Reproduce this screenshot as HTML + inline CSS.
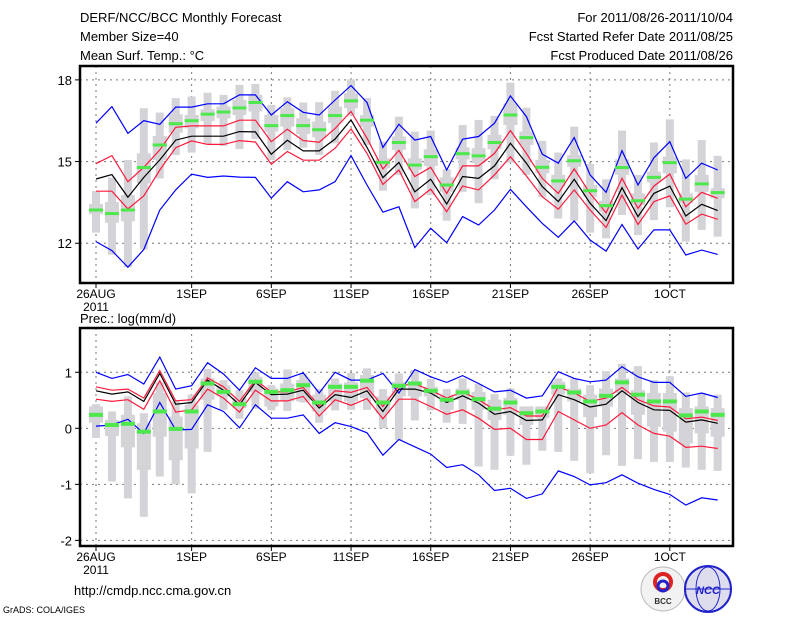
<!DOCTYPE html>
<html><head><meta charset="utf-8">
<style>
body{margin:0;background:#fff;}
svg{display:block;font-family:"Liberation Sans",sans-serif;}
</style></head>
<body>
<svg id="chart" width="800" height="618" viewBox="0 0 800 618">
<g font-size="13" fill="#000">
<text x="80" y="22">DERF/NCC/BCC Monthly Forecast</text>
<text x="80" y="41">Member Size=40</text>
<text x="80" y="60">Mean Surf. Temp.: °C</text>
<text x="733" y="22" text-anchor="end">For 2011/08/26-2011/10/04</text>
<text x="733" y="41" text-anchor="end">Fcst Started Refer Date 2011/08/25</text>
<text x="733" y="60" text-anchor="end">Fcst Produced Date 2011/08/26</text>
<text x="80" y="323">Prec.: log(mm/d)</text>
<text x="74" y="595">http://cmdp.ncc.cma.gov.cn</text>
<text x="3" y="613" font-size="9">GrADS: COLA/IGES</text>
</g>
<g>
<circle cx="663" cy="589" r="22" fill="#f2f2f2" stroke="#bbb"/>
<circle cx="663" cy="582" r="8" fill="none" stroke="#d22" stroke-width="4"/>
<circle cx="663" cy="586" r="5" fill="none" stroke="#22c" stroke-width="3"/>
<text x="663" y="604" font-size="8" text-anchor="middle" font-weight="bold" fill="#333">BCC</text>
</g>
<g>
<circle cx="708" cy="589" r="23" fill="#dde" stroke="#22c" stroke-width="2"/>
<ellipse cx="708" cy="589" rx="12" ry="22" fill="none" stroke="#22c"/>
<line x1="686" y1="589" x2="730" y2="589" stroke="#22c"/>
<text x="708" y="594" font-size="11" text-anchor="middle" font-weight="bold" font-style="italic" fill="#22c">NCC</text>
</g>
<g id="top"></g>
<g id="bot"></g>
</svg>
<script>
const dayLabels=["26AUG","1SEP","6SEP","11SEP","16SEP","21SEP","26SEP","1OCT"];
const dayLabelIdx=[0,6,11,16,21,26,31,36];
// Temperature data (40 days)
const tBlueUp=[16.41,17.02,16.04,16.50,16.37,17.00,17.00,17.12,17.12,17.45,17.45,16.71,17.20,16.81,16.71,17.26,17.79,17.17,15.52,16.37,15.79,15.92,14.69,15.82,15.92,16.41,17.41,16.65,15.27,14.94,15.88,14.51,13.87,15.40,14.14,15.14,15.73,14.38,14.94,14.69];
const tRedUp=[14.92,15.22,14.26,14.79,15.43,16.26,16.31,16.31,16.31,16.52,16.52,15.73,16.19,15.77,15.71,16.22,16.84,15.86,14.73,15.41,14.45,14.79,13.83,14.84,14.84,15.30,16.14,15.30,14.38,13.83,14.73,13.83,13.12,14.38,13.28,14.10,14.54,13.34,13.87,13.65];
const tMean=[14.36,14.52,13.69,14.42,15.06,15.79,15.93,15.93,15.93,16.10,16.09,15.27,15.78,15.39,15.39,15.83,16.53,15.52,14.41,14.97,13.89,14.35,13.44,14.45,14.38,14.84,15.67,14.94,14.08,13.53,14.35,13.47,12.83,14.04,12.98,13.83,14.10,13.00,13.43,13.20];
const tRedLow=[13.91,13.91,13.26,13.74,14.69,15.51,15.76,15.63,15.63,15.77,15.72,14.90,15.37,15.05,15.05,15.49,16.20,15.30,14.16,14.69,13.53,13.99,13.16,14.10,13.96,14.51,15.18,14.47,13.71,13.25,13.96,13.22,12.58,13.77,12.69,13.53,13.74,12.70,13.07,12.88];
const tBlueLow=[12.06,11.73,11.12,11.77,13.22,13.96,14.54,14.42,14.47,14.43,14.42,13.66,14.26,13.89,13.96,14.26,15.22,14.14,13.14,13.34,11.84,12.55,12.02,12.98,12.67,13.22,13.98,13.34,12.73,12.22,12.82,12.12,11.71,12.69,11.79,12.49,12.49,11.57,11.75,11.59];
const tGreen=[13.22,13.09,13.22,14.78,15.61,16.39,16.50,16.74,16.82,16.97,17.17,16.32,16.69,16.32,16.17,16.69,17.23,16.52,14.97,15.70,14.87,15.18,14.14,15.29,15.21,15.70,16.71,15.88,14.79,14.29,15.03,13.93,13.38,14.78,13.56,14.42,14.96,13.62,14.18,13.86];
const tMax=[13.92,14.41,15.06,16.96,16.80,17.33,17.39,17.53,17.45,17.82,17.85,17.08,17.36,17.17,17.18,17.60,18.02,17.33,15.73,16.65,16.10,16.14,14.72,16.34,16.53,16.68,17.90,16.98,15.76,15.33,16.28,14.91,14.35,16.14,14.51,15.70,16.55,15.08,15.79,15.21];
const tMin=[12.39,11.58,11.12,11.77,14.38,15.24,15.33,15.63,15.57,15.46,15.83,15.06,15.43,15.51,15.24,15.67,16.71,15.61,13.93,14.51,13.28,13.77,12.83,13.89,13.47,14.35,14.96,14.51,13.69,12.91,12.83,12.39,12.18,13.04,12.30,12.85,13.32,12.06,12.49,12.24];
const tQ3=[13.44,13.51,13.77,15.30,15.94,16.74,16.71,16.92,17.02,17.26,17.45,16.71,16.96,16.59,16.47,17.02,17.51,16.71,15.12,15.92,15.12,15.45,14.42,15.52,15.49,15.98,17.14,16.10,15.06,14.51,15.24,14.14,13.56,15.08,13.83,14.63,15.18,13.83,14.51,14.02];
const tQ1=[13.07,12.75,12.81,14.20,15.06,16.06,16.22,16.49,16.59,16.71,16.84,16.10,16.28,16.01,15.89,16.41,16.96,16.28,14.75,15.43,14.69,14.84,13.89,15.08,14.94,15.45,16.34,15.61,14.57,14.08,14.81,13.71,13.16,14.51,13.40,14.23,14.57,13.47,13.89,13.65];
const tTicks=[12,15,18];
// Precipitation data
const pBlueUp=[1.00,0.89,0.96,0.79,1.27,0.70,0.76,1.17,0.97,0.68,1.08,0.89,0.89,0.99,0.63,1.00,0.86,0.86,0.98,0.63,1.05,0.92,0.82,0.94,0.80,0.65,0.68,0.54,0.58,1.01,0.89,0.83,0.86,1.10,0.92,0.82,0.82,0.57,0.63,0.55];
const pRedUp=[0.74,0.68,0.70,0.54,1.03,0.49,0.51,0.90,0.74,0.48,0.86,0.65,0.65,0.73,0.40,0.67,0.64,0.73,0.39,0.76,0.79,0.68,0.54,0.65,0.51,0.33,0.37,0.22,0.22,0.74,0.63,0.48,0.54,0.73,0.51,0.40,0.38,0.17,0.20,0.14];
const pMean=[0.67,0.61,0.65,0.48,0.98,0.43,0.46,0.86,0.68,0.42,0.82,0.60,0.61,0.68,0.36,0.60,0.55,0.67,0.30,0.70,0.70,0.63,0.46,0.58,0.45,0.25,0.30,0.14,0.15,0.60,0.51,0.38,0.43,0.67,0.46,0.33,0.32,0.11,0.15,0.09];
const pRedLow=[0.52,0.48,0.51,0.34,0.85,0.29,0.33,0.70,0.54,0.29,0.68,0.49,0.49,0.57,0.22,0.51,0.41,0.53,0.17,0.52,0.52,0.39,0.25,0.33,0.18,-0.02,0.00,-0.20,-0.20,0.30,0.15,0.00,0.06,0.28,0.06,-0.09,-0.14,-0.34,-0.32,-0.36];
const pBlueLow=[0.04,0.06,0.16,-0.09,0.46,-0.03,-0.02,0.42,0.30,0.01,0.42,0.18,0.18,0.24,-0.09,0.10,0.03,-0.08,-0.48,-0.20,-0.33,-0.46,-0.70,-0.65,-0.83,-1.11,-1.07,-1.25,-1.17,-0.76,-0.86,-1.01,-0.97,-0.83,-0.98,-1.09,-1.18,-1.37,-1.24,-1.28];
const pGreen=[0.24,0.06,0.08,-0.06,0.30,-0.01,0.30,0.80,0.65,0.43,0.83,0.65,0.68,0.77,0.46,0.74,0.74,0.85,0.46,0.76,0.80,0.67,0.51,0.64,0.52,0.35,0.46,0.27,0.30,0.74,0.64,0.48,0.58,0.82,0.60,0.48,0.48,0.23,0.30,0.24];
const pMax=[0.43,0.30,0.57,0.27,0.82,0.48,0.60,1.06,0.86,0.68,1.00,0.77,1.05,0.98,0.70,0.89,0.99,1.07,0.70,0.98,1.04,0.88,0.70,0.89,0.79,0.61,0.71,0.33,0.36,0.89,0.89,0.77,1.02,1.15,1.11,0.86,0.93,0.64,0.63,0.60];
const pMin=[-0.17,-0.95,-1.25,-1.58,-0.86,-1.00,-1.16,-0.42,0.33,0.17,0.35,0.32,0.31,0.46,0.10,0.32,0.33,0.33,0.00,-0.21,0.14,0.32,0.10,0.08,-0.68,-0.74,-0.49,-0.65,-0.40,-0.42,-0.58,-0.80,-0.48,-0.67,-0.55,-0.60,-0.60,-0.70,-0.74,-0.76];
const pQ3=[0.39,0.15,0.24,0.09,0.63,0.21,0.42,0.89,0.77,0.54,0.92,0.71,0.80,0.86,0.60,0.80,0.82,0.95,0.57,0.83,0.83,0.74,0.60,0.71,0.65,0.51,0.54,0.39,0.39,0.83,0.71,0.60,0.71,0.89,0.68,0.63,0.63,0.36,0.39,0.36];
const pQ1=[0.10,-0.14,-0.34,-0.74,-0.15,-0.57,-0.36,0.51,0.57,0.36,0.65,0.39,0.48,0.48,0.30,0.48,0.48,0.54,0.27,0.57,0.57,0.57,0.33,0.51,0.33,0.15,0.24,0.06,0.18,0.60,0.48,0.20,0.39,0.63,0.24,0.03,-0.06,-0.27,-0.09,-0.15];
const pTicks=[-2,-1,0,1];

const NS="http://www.w3.org/2000/svg";
function mk(parent,tag,attrs){const e=document.createElementNS(NS,tag);for(const k in attrs)e.setAttribute(k,attrs[k]);parent.appendChild(e);return e;}
const X0=80,X1=733;
function xs(d){return 96+d*15.94;}

function panel(g,top,bot,vmin,vmax,ticks,ser,thinW,boxW,greenH){
  const ys=v=>bot-(v-vmin)/(vmax-vmin)*(bot-top);
  // grid
  ticks.forEach(t=>{
    const gl=mk(g,'line',{x1:X0,x2:X1,y1:ys(t),y2:ys(t),stroke:'#777','stroke-dasharray':'2,4','stroke-width':1});
    
    
    const tk=mk(g,'line',{x1:X0-5,x2:X0,y1:ys(t),y2:ys(t),stroke:'#000'});
    
    
    const tl=mk(g,'text',{x:X0-8,y:ys(t)+5,'text-anchor':'end','font-size':13});
    tl.textContent=String(t);
    
    
  });
  dayLabelIdx.forEach((d,i)=>{
    const gl=mk(g,'line',{x1:xs(d),x2:xs(d),y1:top,y2:bot,stroke:'#777','stroke-dasharray':'2,4'});
    
    
    const tk=mk(g,'line',{x1:xs(d),x2:xs(d),y1:bot,y2:bot+5,stroke:'#000'});
    
    
    const tl=mk(g,'text',{x:xs(d),y:bot+15,'text-anchor':'middle','font-size':12});
    tl.textContent=dayLabels[i];
    
    
  });
  const yr=mk(g,'text',{x:xs(0),y:bot+28,'text-anchor':'middle','font-size':12});
  yr.textContent='2011';
  
  
  // boxes
  for(let d=0;d<ser.max.length;d++){
    const x=xs(d);
    const r=mk(g,'rect',{x:x-thinW/2,y:ys(ser.max[d]),width:thinW,height:Math.max(0,ys(ser.min[d])-ys(ser.max[d])),fill:'#d3d3d8'});
    
    
    const b=mk(g,'rect',{x:x-boxW/2,y:ys(ser.q3[d]),width:boxW,height:Math.max(0,ys(ser.q1[d])-ys(ser.q3[d])),fill:'#d3d3d8'});
    
    
  }
  const lines=[['blueLow','#0000ff','lower-bound-line'],['blueUp','#0000ff','upper-bound-line'],['redLow','#ff1a3c','lower-spread-line'],['redUp','#ff1a3c','upper-spread-line'],['mean','#000','ensemble-mean-line']];
  lines.forEach(([k,c,n])=>{
    const pts=ser[k].map((v,d)=>xs(d).toFixed(1)+','+ys(v).toFixed(1)).join(' ');
    const pl=mk(g,'polyline',{points:pts,fill:'none',stroke:c,'stroke-width':1.2});
    
    
  });
  for(let d=0;d<ser.green.length;d++){
    const gr=mk(g,'rect',{x:xs(d)-7,y:ys(ser.green[d])-greenH/2,width:14,height:greenH,fill:'#4ce84c'});
    
    
  }
  const f=mk(g,'rect',{x:X0,y:top,width:X1-X0,height:bot-top,fill:'none',stroke:'#000','stroke-width':2.5});
  
  
}
const tY=v=>v;
panel(document.getElementById('top'),66,283,10.54,18.51,tTicks,
 {blueUp:tBlueUp,redUp:tRedUp,mean:tMean,redLow:tRedLow,blueLow:tBlueLow,green:tGreen,max:tMax,min:tMin,q3:tQ3,q1:tQ1},8,14,3);
panel(document.getElementById('bot'),328,546,-2.1,1.79,pTicks,
 {blueUp:pBlueUp,redUp:pRedUp,mean:pMean,redLow:pRedLow,blueLow:pBlueLow,green:pGreen,max:pMax,min:pMin,q3:pQ3,q1:pQ1},8,14,4);
</script>
</body></html>
